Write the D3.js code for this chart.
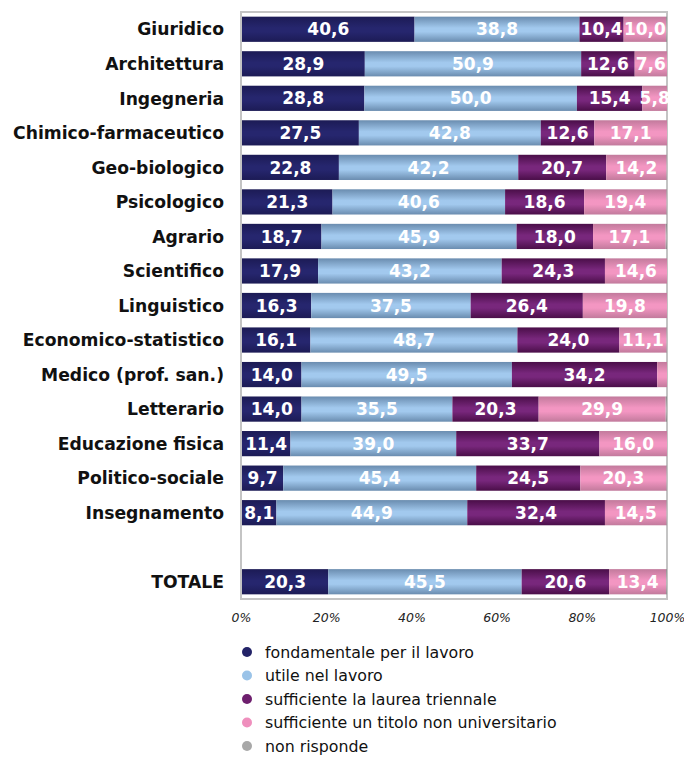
<!DOCTYPE html>
<html><head><meta charset="utf-8">
<script src="https://cdn.jsdelivr.net/npm/d3@7/dist/d3.min.js"></script>
<style>body{margin:0;background:#fff}svg{display:block}</style>
</head><body><svg id="c" width="684" height="760"></svg>
<script>
const categories = ["Giuridico","Architettura","Ingegneria","Chimico-farmaceutico","Geo-biologico","Psicologico","Agrario","Scientifico","Linguistico","Economico-statistico","Medico (prof. san.)","Letterario","Educazione fisica","Politico-sociale","Insegnamento","","TOTALE"];
const fondamentale = [40.6,28.9,28.8,27.5,22.8,21.3,18.7,17.9,16.3,16.1,14.0,14.0,11.4,9.7,8.1,null,20.3];
const utile        = [38.8,50.9,50.0,42.8,42.2,40.6,45.9,43.2,37.5,48.7,49.5,35.5,39.0,45.4,44.9,null,45.5];
const triennale    = [10.4,12.6,15.4,12.6,20.7,18.6,18.0,24.3,26.4,24.0,34.2,20.3,33.7,24.5,32.4,null,20.6];
const nonUniv      = [10.0,7.6,5.8,17.1,14.2,19.4,17.1,14.6,19.8,11.1,2.3,29.9,16.0,20.3,14.5,null,13.4];
const nonRisponde  = [0.2,0,0,0,0.1,0.1,0.3,0,0,0.1,0,0.3,0,0.1,0.1,null,0.2];
const seriesNames = ["fondamentale per il lavoro","utile nel lavoro","sufficiente la laurea triennale","sufficiente un titolo non universitario","non risponde"];
const ticks = [0,20,40,60,80,100];

const seriesData = [fondamentale, utile, triennale, nonUniv, nonRisponde];
const keys = ["s0","s1","s2","s3","s4"];
const table = categories.map((c,i)=>{const o={cat:c,idx:i}; keys.forEach((k,j)=>o[k]=seriesData[j][i]||0); o.blank=fondamentale[i]==null; return o;});

const grads = [
  ["#1c1b55","#26266e","#1c1b55"],
  ["#6a8caf","#a2c9ee","#6a8caf"],
  ["#4a0e48","#78277c","#4a0e48"],
  ["#c27a9c","#f396c2","#c27a9c"],
  ["#8a8a8a","#b4b4b4","#8a8a8a"]
];
const legendColors = ["#232368","#9ac3e8","#6e1f6e","#ef8fbd","#a8a8a8"];

const svg = d3.select("#c");
const defs = svg.append("defs");
grads.forEach((g,i)=>{
  const lg = defs.append("linearGradient").attr("id","g"+i).attr("x1",0).attr("y1",0).attr("x2",0).attr("y2",1);
  lg.append("stop").attr("offset","0%").attr("stop-color",g[0]);
  lg.append("stop").attr("offset","45%").attr("stop-color",g[1]);
  lg.append("stop").attr("offset","60%").attr("stop-color",g[1]);
  lg.append("stop").attr("offset","100%").attr("stop-color",g[2]);
});

const L=241, R=667, T=12, B=599;
const x = d3.scaleLinear().domain([0,100]).range([L+1,R]).clamp(true);
const y = d3.scaleBand().domain(d3.range(categories.length)).range([T,B]).paddingInner(0.27).paddingOuter(0.135);

svg.append("rect").attr("x",L).attr("y",T).attr("width",R-L).attr("height",B-T)
  .attr("fill","none").attr("stroke","#c4c4c4").attr("stroke-width",2);

const stacked = d3.stack().keys(keys)(table);

const g = svg.append("g");
stacked.forEach((layer,li)=>{
  g.selectAll(null).data(layer.filter(d=>!d.data.blank)).enter().append("rect")
    .attr("x",d=>x(d[0])).attr("width",d=>Math.max(0,x(d[1])-x(d[0])))
    .attr("y",d=>y(d.data.idx)).attr("height",y.bandwidth())
    .attr("fill","url(#g"+li+")");
});
stacked.slice(0,4).forEach((layer,li)=>{
  g.selectAll(null).data(layer.filter(d=>!d.data.blank && (d[1]-d[0])>=5)).enter().append("text")
    .attr("x",d=>(x(d[0])+x(Math.min(d[1],100)))/2).attr("y",d=>y(d.data.idx)+y.bandwidth()/2)
    .attr("dy","0.36em").attr("text-anchor","middle")
    .attr("fill","#fff").attr("font-family","DejaVu Sans").attr("font-weight","bold").attr("font-size",17)
    .text(d=>d3.format(".1f")(d[1]-d[0]).replace(".",","));
});

svg.append("g").selectAll("text").data(categories).enter().append("text")
  .attr("x",224).attr("y",(d,i)=>y(i)+y.bandwidth()/2).attr("dy","0.36em")
  .attr("text-anchor","end").attr("font-family","DejaVu Sans").attr("font-weight","bold")
  .attr("font-size",17.2).attr("fill","#111").text(d=>d);

const ax = svg.append("g").attr("transform",`translate(0,${B})`)
  .call(d3.axisBottom(d3.scaleLinear().domain([0,100]).range([L,R])).tickValues(ticks).tickSize(0).tickPadding(14).tickFormat(d=>d+"%"));
ax.select(".domain").remove();
ax.selectAll("text").attr("font-family","DejaVu Sans").attr("font-style","italic").attr("font-size",12.5).attr("fill","#222");

const lgd = svg.append("g");
seriesNames.forEach((n,i)=>{
  const yy = 652 + i*23.5;
  lgd.append("circle").attr("cx",247).attr("cy",yy).attr("r",5).attr("fill",legendColors[i]);
  lgd.append("text").attr("x",265).attr("y",yy).attr("dy","0.36em").attr("font-family","DejaVu Sans")
    .attr("font-size",15.8).attr("fill","#111").text(n);
});
</script></body></html>
